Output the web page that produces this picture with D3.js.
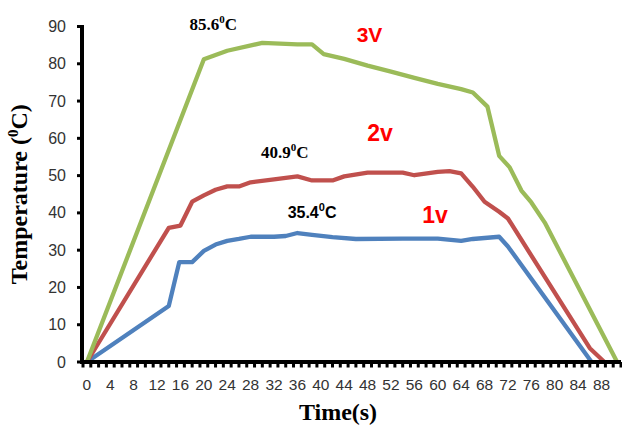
<!DOCTYPE html>
<html>
<head>
<meta charset="utf-8">
<script src="https://cdn.jsdelivr.net/npm/d3@7"></script>
<style>
  body { margin: 0; background: #fff; }
  svg { display: block; }
</style>
</head>
<body>
<div id="chart"></div>
<script>
// DATA (time in s, temperature in degC)
const time1v = [0, 14, 15.8, 18, 20, 22, 24, 26, 28, 32, 34, 36, 38.5, 42, 46, 54, 60, 64, 66, 70.5, 72, 86.3];
const temp1v = [0, 15, 26.8, 26.8, 29.8, 31.5, 32.5, 33, 33.6, 33.6, 33.8, 34.6, 34.1, 33.5, 33, 33.1, 33.1, 32.5, 33, 33.6, 31, 0];

const time2v = [0, 14, 16, 18, 20, 22, 24, 26, 28, 32, 36, 38.5, 42, 44, 48, 54, 56, 60, 62, 64, 66, 68, 70.5, 72, 86, 88.5];
const temp2v = [0, 36, 36.6, 43, 44.7, 46.2, 47.1, 47.1, 48.2, 49, 49.8, 48.7, 48.7, 49.8, 50.8, 50.8, 50.1, 51, 51.2, 50.6, 47, 43, 40.3, 38.5, 3.7, 0];

const time3v = [0, 20, 24, 30, 36, 38.5, 40.5, 44, 48, 52, 56, 60, 64, 66, 68.5, 70.5, 72.3, 74.3, 76, 78.3, 90.67];
const temp3v = [0, 81.2, 83.5, 85.6, 85.2, 85.2, 82.6, 81.3, 79.5, 77.9, 76.2, 74.6, 73.2, 72.3, 68.5, 55.3, 52.2, 46, 42.8, 37.4, 0];

const xTickLabels = [0, 4, 8, 12, 16, 20, 24, 28, 32, 36, 40, 44, 48, 52, 56, 60, 64, 68, 72, 76, 80, 84, 88];
const yTickLabels = [0, 10, 20, 30, 40, 50, 60, 70, 80, 90];
const categoryStep = 4 / 3; // one tick mark per sample
const categoryCount = 69;

const seriesNames = ["1v", "2v", "3V"];
const seriesColors = ["#4f81bd", "#c0504d", "#9bbb59"];

// annotations: [label, time, temp, font]
const peakLabels = [
    ["85.6", 30, 85.6, "serif"],
    ["40.9", 34, 50.8, "serif"],
    ["35.4", 38.5, 35.4, "sans"]
];

// SET GLOBAL VARIABLES
const W = 622, H = 425;
const plotLeft = 83, plotRight = 621, plotTop = 26.5, plotBottom = 362;

const svg = d3.select("#chart")
    .append("svg")
    .attr("width", W)
    .attr("height", H);

svg.append("rect").attr("width", W).attr("height", H).attr("fill", "#fff");

// Scales
const x = d3.scaleLinear()
    .domain([-categoryStep / 2, -categoryStep / 2 + categoryCount * categoryStep])
    .range([plotLeft, plotRight]);

const y = d3.scaleLinear()
    .domain([0, 90])
    .range([plotBottom, plotTop]);

// Lines
const line = d3.line()
    .x(d => x(d[0]))
    .y(d => y(d[1]));

const seriesData = [
    d3.zip(time1v, temp1v),
    d3.zip(time2v, temp2v),
    d3.zip(time3v, temp3v)
];

seriesData.forEach((pts, i) => {
    svg.append("path")
        .datum(pts)
        .attr("fill", "none")
        .attr("stroke", seriesColors[i])
        .attr("stroke-width", 4.3)
        .attr("stroke-linejoin", "round")
        .attr("d", line);
});

// X axis: tick marks between categories, labels every 3rd category
const xTickMarks = d3.range(categoryCount + 1).map(k => -categoryStep / 2 + k * categoryStep);
const xAxis = svg.append("g");
xAxis.selectAll("rect.tick")
    .data(xTickMarks)
    .join("rect")
    .attr("x", d => x(d) - 1.5)
    .attr("y", plotBottom)
    .attr("width", 3)
    .attr("height", 5.5)
    .attr("fill", "#000");

xAxis.append("line")
    .attr("x1", plotLeft - 2).attr("x2", plotRight)
    .attr("y1", plotBottom).attr("y2", plotBottom)
    .attr("stroke", "#000")
    .attr("stroke-width", 4);

xAxis.selectAll("text")
    .data(xTickLabels)
    .join("text")
    .attr("x", d => x(d))
    .attr("y", 390)
    .attr("text-anchor", "middle")
    .attr("font-family", "Liberation Sans, Arial, sans-serif")
    .attr("font-size", 15.5)
    .attr("fill", "#333")
    .text(d => d);

// Y axis
const yAxis = svg.append("g");
yAxis.selectAll("line.tick")
    .data(yTickLabels)
    .join("line")
    .attr("x1", plotLeft - 6).attr("x2", plotLeft)
    .attr("y1", d => y(d)).attr("y2", d => y(d))
    .attr("stroke", "#000")
    .attr("stroke-width", 3);

yAxis.append("line")
    .attr("x1", plotLeft - 1).attr("x2", plotLeft - 1)
    .attr("y1", plotTop - 1.5).attr("y2", plotBottom + 2)
    .attr("stroke", "#000")
    .attr("stroke-width", 4);

yAxis.selectAll("text")
    .data(yTickLabels)
    .join("text")
    .attr("x", 66)
    .attr("y", d => y(d) + 5.5)
    .attr("text-anchor", "end")
    .attr("font-family", "Liberation Sans, Arial, sans-serif")
    .attr("font-size", 16)
    .attr("fill", "#333")
    .text(d => d);

// Axis titles
const yTitle = svg.append("text")
    .attr("transform", `translate(27,${(plotTop + plotBottom) / 2}) rotate(-90)`)
    .attr("text-anchor", "middle")
    .attr("font-family", "Liberation Serif, Times New Roman, serif")
    .attr("font-weight", "bold")
    .attr("font-size", 24)
    .attr("fill", "#000");
yTitle.append("tspan").text("Temperature (");
yTitle.append("tspan").attr("font-size", 15).attr("dy", -9).text("0");
yTitle.append("tspan").attr("dy", 9).text("C)");

svg.append("text")
    .attr("x", 338)
    .attr("y", 420)
    .attr("text-anchor", "middle")
    .attr("font-family", "Liberation Serif, Times New Roman, serif")
    .attr("font-weight", "bold")
    .attr("font-size", 24)
    .attr("fill", "#000")
    .text("Time(s)");

// Peak annotations
const peakOffsets = [[-49, -13], [-1, -15], [0, -12]];
peakLabels.forEach(([label, t, v, fam], i) => {
    const serif = fam === "serif";
    const txt = svg.append("text")
        .attr("x", x(t) + peakOffsets[i][0])
        .attr("y", y(v) + peakOffsets[i][1])
        .attr("text-anchor", "middle")
        .attr("font-family", serif ? "Liberation Serif, Times New Roman, serif" : "Liberation Sans, Arial, sans-serif")
        .attr("font-weight", "bold")
        .attr("font-size", serif ? 17 : 16)
        .attr("fill", "#000");
    txt.append("tspan").text(label);
    txt.append("tspan").attr("font-size", 11).attr("dy", -7).text("0");
    txt.append("tspan").attr("dy", 7).text("C");
});

// Series labels
const seriesLabelPos = [[435, 223, 23], [380, 141, 23], [369.5, 41.5, 21]];
seriesNames.forEach((name, i) => {
    svg.append("text")
        .attr("x", seriesLabelPos[i][0])
        .attr("y", seriesLabelPos[i][1])
        .attr("text-anchor", "middle")
        .attr("font-family", "Liberation Sans, Arial, sans-serif")
        .attr("font-weight", "bold")
        .attr("font-size", seriesLabelPos[i][2])
        .attr("fill", "#ff0000")
        .text(name);
});
</script>
</body>
</html>
